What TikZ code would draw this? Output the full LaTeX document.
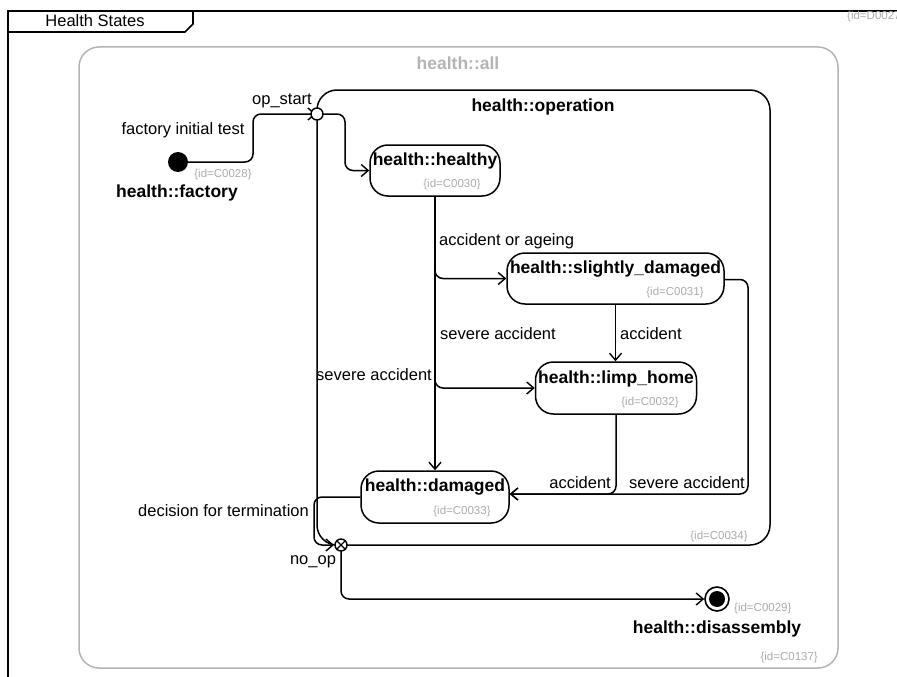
\documentclass[tikz,border=0pt]{standalone}
\usepackage{fontspec}
\setmainfont{Liberation Sans}
\usetikzlibrary{arrows.meta}

\definecolor{idgray}{HTML}{ABABAB}
\definecolor{allgray}{HTML}{B4B4B4}

\tikzset{
  line/.style={line width=1.5pt, black},
  arr/.style={line, rounded corners=8pt, -{Straight Barb[length=7pt,width=12pt,line width=1.4pt]}},
  statebox/.style={draw, line width=1.5pt, rounded corners=18pt, inner sep=0pt},
  ttl/.style={font=\fontsize{17.5}{20}\selectfont\bfseries, inner sep=0pt},
  lbl/.style={font=\fontsize{16.5}{19}\selectfont, inner sep=0pt},
  idtxt/.style={font=\fontsize{11.5}{13}\selectfont, text=idgray, inner sep=0pt},
  pseudo/.style={circle, draw, line width=1.4pt, fill=white, minimum size=12pt, inner sep=0pt},
}

\begin{document}
\begin{tikzpicture}[x=1pt, y=-1pt]
\useasboundingbox (0,0) rectangle (897,677);

% diagram frame with its name tab
\draw[line width=1.8pt] (930,11) -- (8,11) -- (8,690);
\draw[line width=1.6pt] (193,11) -- (193,24) -- (185,32) -- (8,32);
\node[lbl] (frameT) at (95,21) {Health States};
\node[idtxt, anchor=west] (frameId) at (847,17) {\{id=D0027\}};

% outer composite state health::all
\node[draw=allgray, line width=1.5pt, rounded corners=20pt, minimum width=759pt,
      minimum height=621pt, inner sep=0pt] (all) at (458.5,357.5) {};
\node[ttl, text=allgray] (allT) at (458,63) {health::all};
\node[idtxt, anchor=east] (allId) at (818,658) {\{id=C0137\}};

% composite state health::operation
\node[draw, line width=1.5pt, rounded corners=20pt, minimum width=453pt,
      minimum height=455pt, inner sep=0pt] (operation) at (543.5,317.5) {};
\node[ttl] (operationT) at (543,107) {health::operation};
\node[idtxt] (operationId) at (719,537) {\{id=C0034\}};

% simple states
\node[statebox, minimum width=130pt, minimum height=51pt] (healthy) at (435,170.5) {};
\node[ttl] (healthyT) at (435,161) {health::healthy};
\node[idtxt] (healthyId) at (452,185) {\{id=C0030\}};

\node[statebox, minimum width=217pt, minimum height=51pt] (slightly) at (615.5,278.5) {};
\node[ttl] (slightlyT) at (615.5,269) {health::slightly\_damaged};
\node[idtxt] (slightlyId) at (675,293) {\{id=C0031\}};

\node[statebox, minimum width=161pt, minimum height=52pt] (limp) at (616,388) {};
\node[ttl] (limpT) at (616,379) {health::limp\_home};
\node[idtxt] (limpId) at (650,403) {\{id=C0032\}};

\node[statebox, minimum width=148pt, minimum height=52pt] (damaged) at (435,497) {};
\node[ttl] (damagedT) at (435,487) {health::damaged};
\node[idtxt] (damagedId) at (462,512) {\{id=C0033\}};

% initial and final states
\node[circle, fill=black, minimum size=20pt, inner sep=0pt] (init) at (178,162) {};
\node[ttl] (initT) at (177,193) {health::factory};
\node[idtxt] (initId) at (223,175) {\{id=C0028\}};

\node[circle, draw, line width=1.6pt, fill=white, minimum size=24pt, inner sep=0pt] (final) at (717,599) {};
\fill (final.center) circle[radius=8pt];
\node[ttl] (finalT) at (717,629) {health::disassembly};
\node[idtxt, anchor=west] (finalId) at (734,609) {\{id=C0029\}};

% bend points of the longer transitions
\coordinate (itTurn) at (253,140);
\coordinate (osTurn) at (345,140);
\coordinate (sdTurn) at (748,400);
\coordinate (dtTurn) at (314,497);

% transitions
\draw[arr] (init.east) -| (itTurn) |- (316,114);
\draw[arr] (323,114) -| (osTurn) |- (healthy.west);

\draw[arr] (healthy.south) -- (damaged.north);
\draw[arr] ([yshift=-40pt]healthy.south) |- (slightly.west);
\draw[arr] ([yshift=-150pt]healthy.south) |- (limp.west);
\draw[arr] (slightly.south) -- (slightly.south |- limp.north);
\draw[arr] (limp.south) |- ([yshift=3pt]damaged.east);
\draw[arr] ([yshift=-1pt]slightly.east) -| (sdTurn) |- ([yshift=3pt]damaged.east);
\draw[arr] (damaged.west) -- (dtTurn) |- (334,545);
\draw[arr] (341,551) |- (final.west);

% entry and exit points of health::operation
\node[pseudo] (opstart) at (317,114) {};
\node[pseudo] (noop) at (341,545) {};
\draw[line width=1.2pt] (noop.north west) -- (noop.south east) (noop.north east) -- (noop.south west);

% transition labels
\node[lbl] (opstartL) at (282,101) {op\_start};
\node[lbl] (initL) at (183,130) {factory initial test};
\node[lbl, anchor=west] (ageL) at (439,241) {accident or ageing};
\node[lbl, anchor=west] (sevLimpL) at (440,334) {severe accident};
\node[lbl, anchor=east] (sevDamL) at (432,375) {severe accident};
\node[lbl, anchor=west] (accLimpL) at (620,334) {accident};
\node[lbl, anchor=east] (accDamL) at (611,483) {accident};
\node[lbl, anchor=east] (sevRightL) at (745,483) {severe accident};
\node[lbl, anchor=east] (termL) at (309,511) {decision for termination};
\node[lbl] (noopL) at (313,562) {no\_op};
\end{tikzpicture}
\end{document}
